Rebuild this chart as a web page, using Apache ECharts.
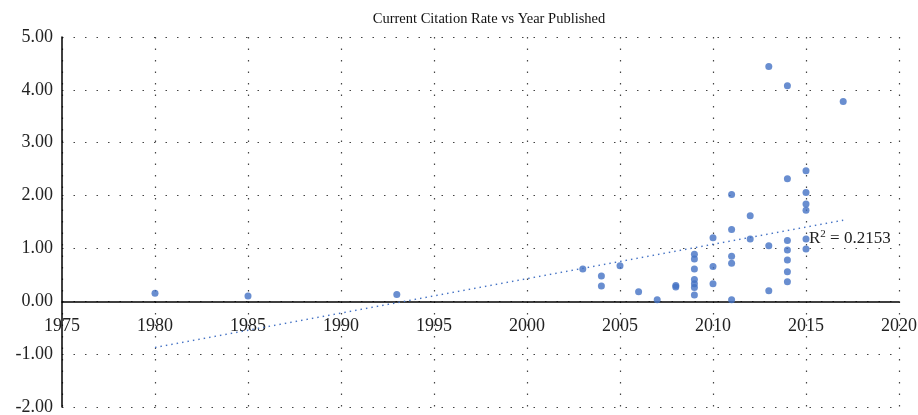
<!DOCTYPE html>
<html>
<head>
<meta charset="utf-8">
<script src="https://cdn.jsdelivr.net/npm/echarts@6/dist/echarts.min.js"></script>
<style>
  html, body { margin: 0; padding: 0; background: #fff; }
  #main { width: 918px; height: 415px; }
</style>
</head>
<body>
<div id="main"></div>
<script>
// 数据：发表年份 / 当前引用率
var years = [1980, 1985, 1993, 2003, 2004, 2004, 2005, 2006, 2007, 2008, 2008,
    2009, 2009, 2009, 2009, 2009, 2009, 2009,
    2010, 2010, 2010,
    2011, 2011, 2011, 2011, 2011,
    2012, 2012,
    2013, 2013, 2013,
    2014, 2014, 2014, 2014, 2014, 2014, 2014,
    2015, 2015, 2015, 2015, 2015, 2015,
    2017];
var rates = [0.15, 0.10, 0.13, 0.61, 0.48, 0.29, 0.67, 0.18, 0.03, 0.30, 0.27,
    0.89, 0.80, 0.61, 0.41, 0.33, 0.26, 0.12,
    1.20, 0.66, 0.33,
    2.02, 1.36, 0.85, 0.72, 0.03,
    1.62, 1.18,
    4.44, 1.05, 0.20,
    4.08, 2.32, 1.15, 0.97, 0.78, 0.56, 0.37,
    2.47, 2.06, 1.84, 1.72, 1.18, 0.99,
    3.78];
var trendLabel = '0.2153';

var points = years.map(function (y, i) { return [y, rates[i]]; });

// 线性趋势线（最小二乘）
var n = years.length, sx = 0, sy = 0, sxx = 0, sxy = 0;
for (var i = 0; i < n; i++) {
    sx += years[i]; sy += rates[i];
    sxx += years[i] * years[i]; sxy += years[i] * rates[i];
}
var slope = (n * sxy - sx * sy) / (n * sxx - sx * sx);
var icpt = (sy - slope * sx) / n;
var xMin = Math.min.apply(null, years), xMax = Math.max.apply(null, years);
var trend = [[xMin, icpt + slope * xMin], [xMax, icpt + slope * xMax]];

var font = '"Liberation Serif", "DejaVu Serif", serif';
var gridDots = { color: '#444', width: 1.2, type: [1.5, 10] };

// 坐标范围，x轴标签放在 y=0 处
var yMin = -2, yMax = 5;
var gridTop = 37, gridBottom = 8, H = 415;
var zeroOffset = (H - gridTop - gridBottom) * (0 - yMin) / (yMax - yMin);

var chart = echarts.init(document.getElementById('main'));
chart.setOption({
    animation: false,
    textStyle: { fontFamily: font },
    title: {
        text: 'Current Citation Rate vs Year Published',
        left: 484,
        textAlign: 'center',
        top: 7,
        textStyle: { fontFamily: font, fontSize: 14.5, fontWeight: 'normal', color: '#111' }
    },
    grid: { left: 62, right: 19, top: gridTop, bottom: gridBottom, outerBoundsMode: 'none' },
    xAxis: {
        type: 'value',
        min: 1975, max: 2020, interval: 5,
        offset: -zeroOffset,
        axisLine: { onZero: false, lineStyle: { color: '#000', width: 1.5 } },
        axisTick: { show: false },
        axisLabel: {
            color: '#222', fontSize: 18, fontFamily: font, margin: 16,
            formatter: function (v) { return String(v); }
        },
        splitLine: { show: true, lineStyle: gridDots }
    },
    yAxis: {
        type: 'value',
        min: yMin, max: yMax, interval: 1,
        axisLine: { show: true, onZero: false, lineStyle: { color: '#000', width: 1.5 } },
        axisTick: { show: false },
        axisLabel: {
            color: '#222', fontSize: 18, fontFamily: font, margin: 9,
            formatter: function (v) { return v.toFixed(2); }
        },
        splitLine: { show: true, lineStyle: gridDots }
    },
    series: [{
        type: 'line',
        data: trend,
        symbol: 'none',
        lineStyle: { color: '#4472C4', width: 1.5, type: [1.5, 4] },
        z: 1
    }, {
        type: 'scatter',
        data: points,
        symbolSize: 7,
        itemStyle: { color: '#4472C4' },
        z: 3
    }],
    graphic: [{
        type: 'text',
        left: 809,
        top: 229,
        style: {
            text: 'R{sup|2} = ' + trendLabel,
            fontFamily: font,
            fontSize: 17,
            fill: '#222',
            rich: {
                sup: { fontSize: 11, verticalAlign: 'top', padding: [0, 0, 8, 0], fontFamily: font }
            }
        }
    }]
});
</script>
</body>
</html>
